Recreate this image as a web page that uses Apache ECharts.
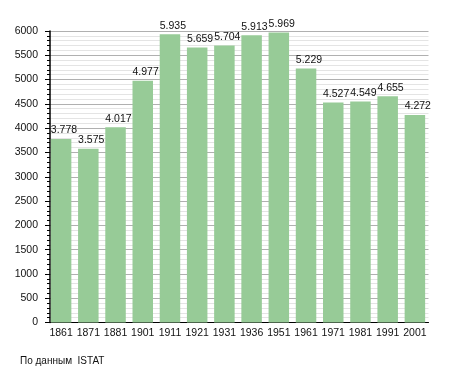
<!DOCTYPE html>
<html><head><meta charset="utf-8">
<script src="https://cdn.jsdelivr.net/npm/echarts@6/dist/echarts.min.js"></script>
<style>html,body{margin:0;padding:0;background:#fff}#c{width:455px;height:373px}</style>
</head><body><div id="c"></div>
<script>
const years = ['1861','1871','1881','1901','1911','1921','1931','1936','1951','1961','1971','1981','1991','2001'];
const population = [3778,3575,4017,4977,5935,5659,5704,5913,5969,5229,4527,4549,4655,4272];
const yTicks = [0,500,1000,1500,2000,2500,3000,3500,4000,4500,5000,5500,6000];
const sourceNote = 'По данным  ISTAT';

const fmt = v => String(v).replace(/\B(?=(\d{3})+(?!\d))/g, '.');
const chart = echarts.init(document.getElementById('c'), null, {renderer:'canvas'});
chart.setOption({
  animation:false,
  textStyle:{fontFamily:'Liberation Sans, Arial, sans-serif'},
  grid:{left:47.5, top:31, width:381, height:291.5, containLabel:false},
  graphic:[{type:'text', left:20, top:356, style:{text:sourceNote, font:'10px Liberation Sans, Arial, sans-serif', fill:'#111'}}],
  xAxis:{type:'category', data:years, axisTick:{show:false},
    axisLine:{lineStyle:{color:'#000', width:1}},
    axisLabel:{color:'#111', fontSize:10.5, margin:5, interval:0}},
  yAxis:{type:'value', min:yTicks[0], max:yTicks[yTicks.length-1], interval:500, offset:-2.5,
    axisLine:{show:true, lineStyle:{color:'#000', width:1.5}},
    axisTick:{show:true, length:5, lineStyle:{color:'#000'}},
    minorTick:{show:true, splitNumber:5, length:3, lineStyle:{color:'#000'}},
    splitLine:{show:true, lineStyle:{color:'#b0b0b0', width:1}},
    minorSplitLine:{show:true, lineStyle:{color:'#e4e4e4', width:1}},
    axisLabel:{color:'#111', fontSize:10.5, margin:12, formatter:v=>String(v)}},
  series:[{type:'bar', data:population, barWidth:20.5,
    itemStyle:{color:'#97cb97'},
    label:{show:true, position:[0,-14], color:'#111', fontSize:10.5, formatter:p=>fmt(p.value)}}]
});
</script></body></html>
